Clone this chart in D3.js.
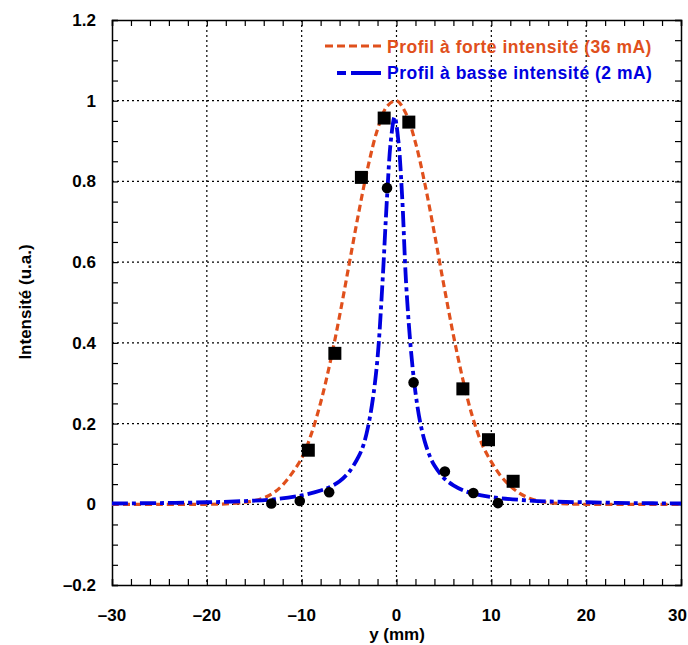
<!DOCTYPE html>
<html>
<head>
<meta charset="utf-8">
<script src="https://cdn.jsdelivr.net/npm/d3@7"></script>
<style>
  body { margin: 0; background: #fff; }
</style>
</head>
<body>
<script>
'use strict';

// high intensity profile (36 mA)
const strongX = [-30, -25, -20, -18, -16, -15, -14, -13, -12, -10, -9, -8, -7, -6, -5, -4, -3, -2, -1, 0, 1, 2, 3, 4, 5, 6, 7, 8, 9, 10, 11, 12, 13, 14, 15, 16, 18, 20, 25, 30];
const strongY = [0, 0, 0, 0.001, 0.005, 0.009, 0.016, 0.028, 0.048, 0.114, 0.173, 0.252, 0.351, 0.467, 0.594, 0.721, 0.837, 0.929, 0.986, 1.0, 0.968, 0.896, 0.793, 0.671, 0.542, 0.419, 0.309, 0.218, 0.150, 0.105, 0.070, 0.045, 0.027, 0.015, 0.008, 0.004, 0.001, 0, 0, 0];

// low intensity profile (2 mA)
const weakX = [-30, -25, -20, -16, -13, -10, -8, -7, -6, -5, -4, -3.5, -3, -2.5, -2, -1.5, -1, -0.6, -0.2, 0.2, 0.6, 1, 1.5, 2, 2.5, 3, 3.5, 4, 5, 6, 7, 8, 10, 13, 16, 20, 25, 30];
const weakY = [0.002, 0.003, 0.005, 0.008, 0.012, 0.022, 0.034, 0.043, 0.057, 0.080, 0.118, 0.146, 0.192, 0.260, 0.362, 0.540, 0.760, 0.900, 0.960, 0.900, 0.760, 0.553, 0.388, 0.277, 0.203, 0.154, 0.120, 0.096, 0.065, 0.047, 0.035, 0.027, 0.018, 0.011, 0.007, 0.005, 0.003, 0.002];

// measured points
const squareX = [-9.3, -6.5, -3.7, -1.3, 1.3, 7.0, 9.7, 12.3];
const squareY = [0.134, 0.374, 0.81, 0.957, 0.947, 0.286, 0.160, 0.057];
const circleX = [-13.2, -10.2, -7.1, -1.0, 1.8, 5.1, 8.1, 10.7];
const circleY = [0.002, 0.008, 0.030, 0.784, 0.302, 0.081, 0.028, 0.003];

const xTicks = [-30, -20, -10, 0, 10, 20, 30];
const yTicks = [-0.2, 0, 0.2, 0.4, 0.6, 0.8, 1, 1.2];

const legendLabels = ["Profil \u00e0 forte intensit\u00e9 (36 mA)", "Profil \u00e0 basse intensit\u00e9 (2 mA)"];

(function() {

  let svgContainer = "";
  const orange = "#e0501c";
  const blue = "#0000e0";
  const font = "'Liberation Sans', Arial, Helvetica, sans-serif";

  window.onload = function() {
    svgContainer = d3.select('body')
      .append('svg')
      .attr('width', 688)
      .attr('height', 645);

    let scales = drawTicks();
    plotData(scales);
    makeLabels();
  }

  // frame, grid and inward ticks
  function drawTicks() {
    let xScale = d3.scaleLinear().domain([-30, 30]).range([112, 681]);
    let yScale = d3.scaleLinear().domain([-0.2, 1.2]).range([585, 20]);

    // dotted grid at inner major ticks
    svgContainer.selectAll('.gridX')
      .data(xTicks.slice(1, -1))
      .enter()
      .append('line')
        .attr('x1', (d) => xScale(d))
        .attr('x2', (d) => xScale(d))
        .attr('y1', yScale(1.2))
        .attr('y2', yScale(-0.2))
        .attr('stroke', '#000')
        .attr('stroke-width', 1.2)
        .attr('stroke-dasharray', '2,3');

    svgContainer.selectAll('.gridY')
      .data(yTicks.slice(1, -1))
      .enter()
      .append('line')
        .attr('x1', xScale(-30))
        .attr('x2', xScale(30))
        .attr('y1', (d) => yScale(d))
        .attr('y2', (d) => yScale(d))
        .attr('stroke', '#000')
        .attr('stroke-width', 1.2)
        .attr('stroke-dasharray', '2,3');

    let xMinor = d3.range(-30, 30.01, 2);
    let yMinor = d3.range(-0.2, 1.2001, 0.05);

    let bottom = d3.axisBottom(xScale).tickValues(xMinor).tickSize(-6).tickFormat('');
    let top = d3.axisTop(xScale).tickValues(xMinor).tickSize(-6).tickFormat('');
    let left = d3.axisLeft(yScale).tickValues(yMinor).tickSize(-6).tickFormat('');
    let right = d3.axisRight(yScale).tickValues(yMinor).tickSize(-6).tickFormat('');

    let axes = [
      [bottom, 'translate(0,' + yScale(-0.2) + ')'],
      [top, 'translate(0,' + yScale(1.2) + ')'],
      [left, 'translate(' + xScale(-30) + ',0)'],
      [right, 'translate(' + xScale(30) + ',0)']
    ];
    axes.forEach((a) => {
      let g = svgContainer.append('g').attr('transform', a[1]).call(a[0]);
      g.select('.domain').attr('stroke', '#000').attr('stroke-width', 1.5);
      g.selectAll('.tick line').attr('stroke', '#000').attr('stroke-width', 1.2);
    });

    // tick labels (the last one is pulled in so it stays on the page)
    svgContainer.selectAll('.xLabel')
      .data(xTicks)
      .enter()
      .append('text')
        .attr('x', (d, i) => i == xTicks.length - 1 ? 687 : xScale(d))
        .attr('y', 621)
        .attr('text-anchor', (d, i) => i == xTicks.length - 1 ? 'end' : 'middle')
        .style('font-family', font)
        .style('font-weight', 'bold')
        .style('font-size', '17px')
        .text((d) => d < 0 ? '\u2013' + Math.abs(d) : d);

    svgContainer.selectAll('.yLabel')
      .data(yTicks)
      .enter()
      .append('text')
        .attr('x', 96)
        .attr('y', (d) => yScale(d) + 6)
        .attr('text-anchor', 'end')
        .style('font-family', font)
        .style('font-weight', 'bold')
        .style('font-size', '17px')
        .text((d) => d < 0 ? '\u2013' + Math.abs(d) : d);

    return { x: xScale, y: yScale };
  }

  // curves, markers and legend
  function plotData(scale) {
    let line = d3.line()
      .x((d) => scale.x(d[0]))
      .y((d) => scale.y(d[1]))
      .curve(d3.curveCatmullRom);

    svgContainer.append('clipPath').attr('id', 'plotClip')
      .append('rect')
        .attr('x', scale.x(-30))
        .attr('y', scale.y(1.2))
        .attr('width', scale.x(30) - scale.x(-30))
        .attr('height', scale.y(-0.2) - scale.y(1.2));

    let strong = strongX.map((x, i) => [x, strongY[i]]);
    let weak = weakX.map((x, i) => [x, weakY[i]]);

    svgContainer.append('path')
      .datum(strong)
      .attr('clip-path', 'url(#plotClip)')
      .attr('d', line)
      .attr('fill', 'none')
      .attr('stroke', orange)
      .attr('stroke-width', 3.2)
      .attr('stroke-dasharray', '7,4');

    svgContainer.append('path')
      .datum(weak)
      .attr('clip-path', 'url(#plotClip)')
      .attr('d', line)
      .attr('fill', 'none')
      .attr('stroke', blue)
      .attr('stroke-width', 3.8)
      .attr('stroke-dasharray', '16,4,4,4');

    svgContainer.selectAll('.square')
      .data(squareX)
      .enter()
      .append('rect')
        .attr('x', (d) => scale.x(d) - 6.5)
        .attr('y', (d, i) => scale.y(squareY[i]) - 6.5)
        .attr('width', 13)
        .attr('height', 13)
        .attr('fill', '#000');

    svgContainer.selectAll('.circle')
      .data(circleX)
      .enter()
      .append('circle')
        .attr('cx', (d) => scale.x(d))
        .attr('cy', (d, i) => scale.y(circleY[i]))
        .attr('r', 5.3)
        .attr('fill', '#000');

    // legend
    let legend = svgContainer.append('g').attr('class', 'legend');
    let colors = [orange, blue];
    let dashes = ['8,4', '9,5,30,4'];
    let starts = [325, 337];
    legendLabels.forEach((label, i) => {
      legend.append('line')
        .attr('x1', starts[i])
        .attr('x2', 382)
        .attr('y1', 46 + i * 27)
        .attr('y2', 46 + i * 27)
        .attr('stroke', colors[i])
        .attr('stroke-width', i == 0 ? 3 : 4)
        .attr('stroke-dasharray', dashes[i]);

      legend.append('text')
        .attr('x', 387)
        .attr('y', 53 + i * 26)
        .style('font-family', font)
        .style('font-weight', 'bold')
        .style('font-size', '17.5px')
        .style('letter-spacing', '0.5px')
        .attr('fill', colors[i])
        .text(label);
    });
  }

  // axis titles
  function makeLabels() {
    svgContainer.append('text')
      .attr('x', 397)
      .attr('y', 640)
      .attr('text-anchor', 'middle')
      .style('font-family', font)
      .style('font-weight', 'bold')
      .style('font-size', '17px')
      .text('y (mm)');

    svgContainer.append('text')
      .attr('transform', 'translate(31, 302)rotate(-90)')
      .attr('text-anchor', 'middle')
      .style('font-family', font)
      .style('font-weight', 'bold')
      .style('font-size', '17px')
      .text('Intensit\u00e9 (u.a.)');
  }

})();
</script>
</body>
</html>
